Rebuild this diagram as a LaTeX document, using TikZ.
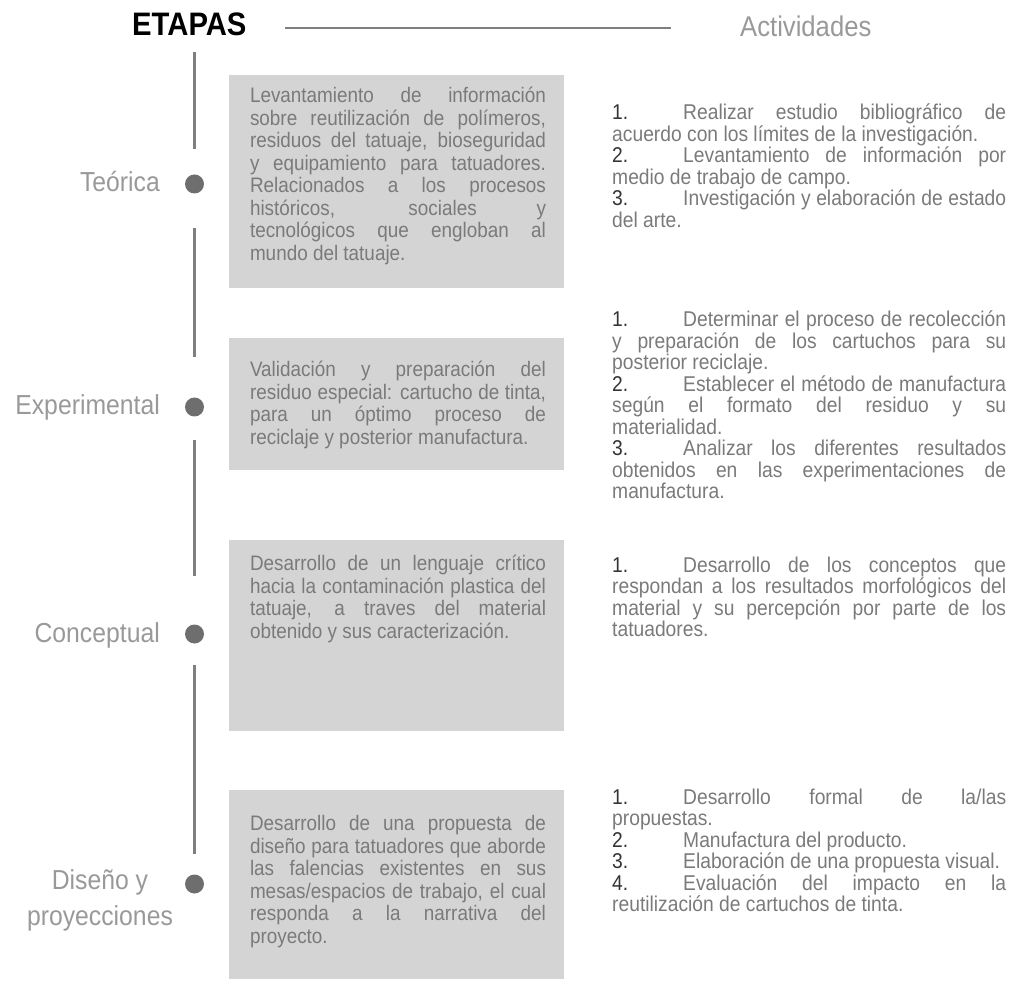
\documentclass[tikz,border=0pt]{standalone}
\usepackage{fontspec}
\setmainfont{Liberation Sans}[FakeStretch=0.9]
\usetikzlibrary{positioning}
\definecolor{boxgray}{HTML}{D4D4D4}
\definecolor{textgray}{HTML}{7A7A7A}
\definecolor{labelgray}{HTML}{999999}
\definecolor{linegray}{HTML}{7F7F7F}
\definecolor{dotgray}{HTML}{6E6E6E}
\definecolor{numdark}{HTML}{333333}
\newcommand{\actnum}[1]{\makebox[71pt][l]{\color{numdark}#1}}
\tolerance=10000
\hyphenpenalty=10000

\begin{document}
\begin{tikzpicture}[
    x=1pt, y=-1pt,
    stagebox/.style={rectangle, fill=boxgray, inner sep=0pt,
                     minimum width=335pt, minimum height=#1},
    boxtext/.style={inner sep=0pt, text width=296pt, align=justify,
                    anchor=base west, text=textgray,
                    font=\fontsize{21}{22.5}\selectfont},
    activity/.style={inner sep=0pt, text width=394pt, align=justify,
                     anchor=base west, text=textgray,
                     font=\fontsize{21.4}{21.5}\selectfont},
    stagelabel/.style={inner sep=0pt, anchor=base east, text=labelgray,
                       font=\fontsize{27.5}{36}\selectfont},
    stagedot/.style={circle, fill=dotgray, inner sep=0pt, minimum size=19pt},
    timeline/.style={draw=linegray, line width=2.5pt},
    headline/.style={draw=linegray, line width=1.4pt},
]
\useasboundingbox (0,0) rectangle (1023,981);

% Header
\node[anchor=base west, inner sep=0pt, font=\fontsize{32.5}{36}\selectfont\bfseries]
      (etapas) at (132,36) {ETAPAS};
\node[anchor=base west, inner sep=0pt, text=labelgray, font=\fontsize{28.5}{32}\selectfont]
      (actividades) at (740,37) {Actividades};
\draw[headline] ([xshift=38pt, yshift=8pt]etapas.base east)
      -- ([xshift=-69pt, yshift=9pt]actividades.base west);

% Stage boxes
\node[stagebox=213pt] (box1) at (396.5,181.5) {};
\node[stagebox=132pt] (box2) at (396.5,404) {};
\node[stagebox=191pt] (box3) at (396.5,635.5) {};
\node[stagebox=189pt] (box4) at (396.5,884.5) {};

% Timeline dots and labels
\node[stagedot] (dot1) at (194.5,184) {};
\node[stagedot] (dot2) at (194.5,407) {};
\node[stagedot] (dot3) at (194.5,634) {};
\node[stagedot] (dot4) at (194.5,884) {};

\node[stagelabel] (teorica) at (160,192) {Teórica};
\node[stagelabel] (experimental) at (160,415) {Experimental};
\node[stagelabel] (conceptual) at (160,642) {Conceptual};
\node[stagelabel, anchor=center, align=center] (diseno) at (100,900)
      {Diseño y\\proyecciones};

% Timeline segments
\coordinate (tltop) at (194.5,52);
\draw[timeline] (tltop) -- ([yshift=25.5pt]dot1.north);
\draw[timeline] ([yshift=-34.5pt]dot1.south) -- ([yshift=40.5pt]dot2.north);
\draw[timeline] ([yshift=-23.5pt]dot2.south) -- ([yshift=48.5pt]dot3.north);
\draw[timeline] ([yshift=-21.5pt]dot3.south) -- ([yshift=20.5pt]dot4.north);

% Box texts
\node[boxtext] (txt1) at ([xshift=21pt, yshift=-28pt]box1.north west)
      {Levantamiento de información\linebreak
       sobre reutilización de polímeros,\linebreak
       residuos del tatuaje, bioseguridad\linebreak
       y equipamiento para tatuadores.\linebreak
       Relacionados a los procesos\linebreak
       históricos, sociales y\linebreak
       tecnológicos que engloban al\linebreak
       mundo del tatuaje.};
\node[boxtext] (txt2) at ([xshift=21pt, yshift=-39pt]box2.north west)
      {Validación y preparación del\linebreak
       residuo especial: cartucho de tinta,\linebreak
       para un óptimo proceso de\linebreak
       reciclaje y posterior manufactura.};
\node[boxtext] (txt3) at ([xshift=21pt, yshift=-31pt]box3.north west)
      {Desarrollo de un lenguaje crítico\linebreak
       hacia la contaminación plastica del\linebreak
       tatuaje, a traves del material\linebreak
       obtenido y sus caracterización.};
\node[boxtext] (txt4) at ([xshift=21pt, yshift=-41pt]box4.north west)
      {Desarrollo de una propuesta de\linebreak
       diseño para tatuadores que aborde\linebreak
       las falencias existentes en sus\linebreak
       mesas/espacios de trabajo, el cual\linebreak
       responda a la narrativa del\linebreak
       proyecto.};

% Activities
\node[activity] (act1) at (612,120)
      {\actnum{1.}Realizar estudio bibliográfico de\linebreak
       acuerdo con los límites de la investigación.\par
       \actnum{2.}Levantamiento de información por\linebreak
       medio de trabajo de campo.\par
       \actnum{3.}Investigación y elaboración de estado\linebreak
       del arte.};
\node[activity] (act2) at (612,327)
      {\actnum{1.}Determinar el proceso de recolección\linebreak
       y preparación de los cartuchos para su\linebreak
       posterior reciclaje.\par
       \actnum{2.}Establecer el método de manufactura\linebreak
       según el formato del residuo y su\linebreak
       materialidad.\par
       \actnum{3.}Analizar los diferentes resultados\linebreak
       obtenidos en las experimentaciones de\linebreak
       manufactura.};
\node[activity] (act3) at (612,572)
      {\actnum{1.}Desarrollo de los conceptos que\linebreak
       respondan a los resultados morfológicos del\linebreak
       material y su percepción por parte de los\linebreak
       tatuadores.};
\node[activity] (act4) at (612,804)
      {\actnum{1.}Desarrollo formal de la/las\linebreak
       propuestas.\par
       \actnum{2.}Manufactura del producto.\par
       \actnum{3.}Elaboración de una propuesta visual.\par
       \actnum{4.}Evaluación del impacto en la\linebreak
       reutilización de cartuchos de tinta.};

\end{tikzpicture}
\end{document}
